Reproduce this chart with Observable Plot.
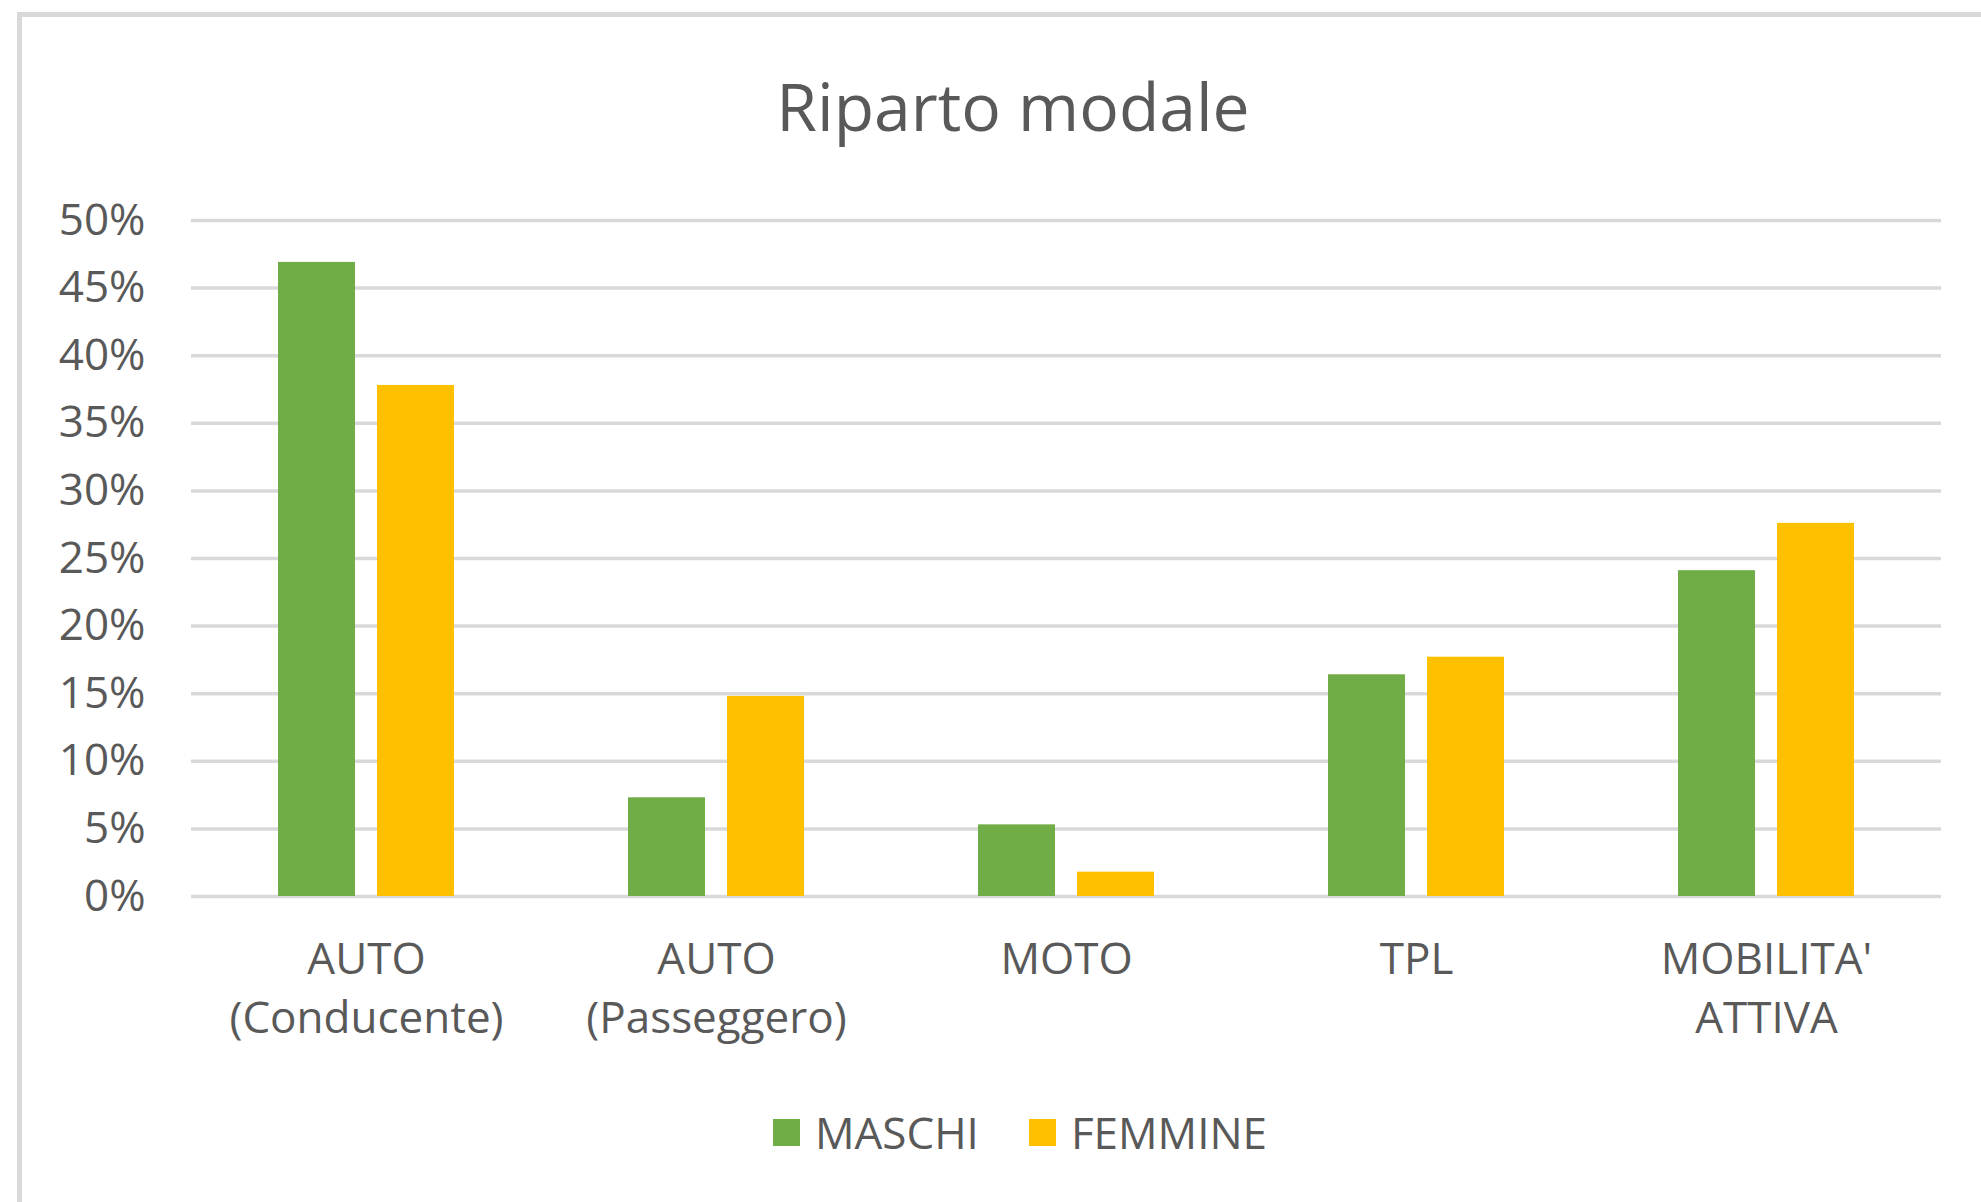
<!DOCTYPE html>
<html>
<head>
<meta charset="utf-8">
<script src="https://cdn.jsdelivr.net/npm/d3@7"></script>
<script src="https://cdn.jsdelivr.net/npm/@observablehq/plot@0.6"></script>
<style>
  html, body { margin: 0; padding: 0; background: #fff; width: 1981px; height: 1202px; overflow: hidden; }
  body { position: relative; font-family: "Open Sans", sans-serif; color: #595959; }
  #frame { position: absolute; left: 17px; top: 12px; width: 2100px; height: 1400px; border: 5px solid #D9D9D9; box-sizing: border-box; }
  #title { position: absolute; left: 0; top: 72px; width: 2026px; text-align: center; font-size: 66px; line-height: 66px; color: #595959; }
  #chart { position: absolute; left: 0; top: 160px; }
  #legend { position: absolute; left: 0; top: 1106px; width: 2040px; height: 52px; display: flex; justify-content: center; align-items: center; font-size: 44px; color: #595959; }
  .item { display: flex; align-items: center; }
  .sw { width: 27px; height: 27px; margin-right: 15px; }
</style>
</head>
<body>
<div id="frame"></div>
<div id="title">Riparto modale</div>
<div id="chart"></div>
<div id="legend"></div>
<script>
const categories = ["AUTO\n(Conducente)", "AUTO\n(Passeggero)", "MOTO", "TPL", "MOBILITA'\nATTIVA"];
const series = ["MASCHI", "FEMMINE"];
const colors = ["#70AD47", "#FFC000"];
const maschi = [0.469, 0.073, 0.053, 0.164, 0.241];
const femmine = [0.378, 0.148, 0.018, 0.177, 0.276];
const yTicks = [0, 0.05, 0.10, 0.15, 0.20, 0.25, 0.30, 0.35, 0.40, 0.45, 0.50];

const data = [];
categories.forEach((c, i) => {
  data.push({cat: c, sex: series[0], value: maschi[i]});
  data.push({cat: c, sex: series[1], value: femmine[i]});
});

const plot = Plot.plot({
  width: 1981,
  height: 920,
  marginTop: 60,
  marginBottom: 184,
  marginLeft: 190,
  marginRight: 39,
  style: {fontFamily: "Open Sans", color: "#595959", background: "transparent"},
  fx: {domain: categories, padding: 0, label: null},
  x: {domain: series, paddingInner: 0.22, paddingOuter: 0.8625, axis: null},
  y: {domain: [0, 0.5], label: null},
  color: {domain: series, range: colors},
  marks: [
    Plot.ruleY(yTicks, {stroke: "#D9D9D9", strokeWidth: 3.5}),
    Plot.barY(data, {fx: "cat", x: "sex", y: "value", fill: "sex"}),
    Plot.axisY({ticks: yTicks, tickFormat: d3.format(".0%"), tickSize: 0, tickPadding: 46, fontSize: 44, label: null}),
    Plot.axisFx({anchor: "bottom", tickSize: 0, tickPadding: 36, fontSize: 44, lineHeight: 1.34, label: null})
  ]
});
document.getElementById("chart").appendChild(plot);

const legend = document.getElementById("legend");
series.forEach((s, i) => {
  const item = document.createElement("div");
  item.className = "item";
  if (i > 0) item.style.marginLeft = "50px";
  const sw = document.createElement("div");
  sw.className = "sw";
  sw.style.background = colors[i];
  const label = document.createElement("span");
  label.textContent = s;
  item.appendChild(sw);
  item.appendChild(label);
  legend.appendChild(item);
});
</script>
</body>
</html>
